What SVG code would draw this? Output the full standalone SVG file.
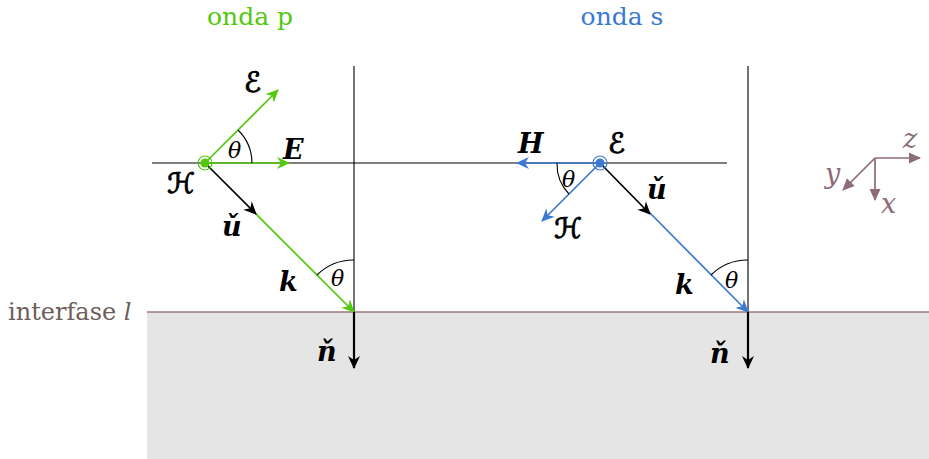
<svg xmlns="http://www.w3.org/2000/svg" width="929" height="459" viewBox="0 0 929 459">
<style>
.thin{stroke:#000;stroke-width:1.1;fill:none}
.g{stroke:#52c90f;stroke-width:1.7;fill:none}
.b{stroke:#3b79d3;stroke-width:1.7;fill:none}
.k{stroke:#000;stroke-width:1.7;fill:none}
.ax{stroke:#8c6b7b;stroke-width:1.7;fill:none}
.m{font-family:"DejaVu Serif","Liberation Serif",serif;font-style:italic;font-weight:bold;font-size:27px;fill:#000}
.sc{font-family:"DejaVu Sans","DejaVu Serif",serif;font-style:italic;font-size:28px;fill:#000;stroke:#000;stroke-width:1}
.th{font-family:"DejaVu Serif","Liberation Serif",serif;font-style:italic;font-size:22px;fill:#000}
.title{font-family:"DejaVu Serif","Liberation Serif",serif;font-size:25px}
.axl{font-family:"DejaVu Serif",serif;font-style:italic;font-size:27px;fill:#8c6b7b}
</style>
<defs>
<marker id="ag" markerUnits="userSpaceOnUse" markerWidth="16" markerHeight="14" refX="0" refY="0" viewBox="-13 -7 16 14" orient="auto"><path d="M1,0 L-12,-6 L-8,0 L-12,6 Z" fill="#52c90f"/></marker>
<marker id="ab" markerUnits="userSpaceOnUse" markerWidth="16" markerHeight="14" refX="0" refY="0" viewBox="-13 -7 16 14" orient="auto"><path d="M1,0 L-12,-6 L-8,0 L-12,6 Z" fill="#3b79d3"/></marker>
<marker id="ak" markerUnits="userSpaceOnUse" markerWidth="16" markerHeight="14" refX="0" refY="0" viewBox="-13 -7 16 14" orient="auto"><path d="M1,0 L-12,-6 L-8,0 L-12,6 Z" fill="#000"/></marker>
<marker id="aa" markerUnits="userSpaceOnUse" markerWidth="16" markerHeight="14" refX="0" refY="0" viewBox="-13 -7 16 14" orient="auto"><path d="M1,0 L-11,-5.5 L-11,5.5 Z" fill="#8c6b7b"/></marker>
</defs>

<g id="ground">
<rect x="147" y="312" width="782" height="147" fill="#e5e5e5"/>
<line x1="147" y1="312" x2="929" y2="312" stroke="#9b7a78" stroke-width="1.5"/>
<text x="8" y="320" font-family="DejaVu Serif,Liberation Serif,serif" font-size="24" fill="#6e5e58">interfase <tspan font-style="italic">l</tspan></text>
</g>

<g id="titles">
<text class="title" x="250" y="25" text-anchor="middle" fill="#52c90f">onda p</text>
<text class="title" x="622" y="25" text-anchor="middle" fill="#3b79d3">onda s</text>
</g>

<g id="connectors">
<line class="thin" x1="152" y1="163" x2="727" y2="163"/>
<line class="thin" x1="354" y1="66" x2="354" y2="312"/>
<line class="thin" x1="748" y1="66" x2="748" y2="312"/>
</g>

<g id="onda-p">
<line class="g" x1="205" y1="163" x2="278" y2="90" marker-end="url(#ag)"/>
<line class="g" x1="205" y1="163" x2="289" y2="163" marker-end="url(#ag)"/>
<line class="g" x1="253" y1="211" x2="354" y2="312" marker-end="url(#ag)"/>
<line class="k" x1="205" y1="163" x2="256" y2="214" marker-end="url(#ak)"/>
<circle cx="205" cy="163" r="7" fill="none" stroke="#52c90f" stroke-width="1.2"/>
<circle cx="205" cy="163" r="4.5" fill="#52c90f"/>
<path class="thin" d="M238,130 A47,47 0 0 1 252,163"/>
<path class="thin" d="M317,275 A52,52 0 0 1 354,260"/>
<line x1="354" y1="312" x2="354" y2="368" stroke="#000" stroke-width="2.2" marker-end="url(#ak)"/>
<text class="th" x="228" y="158">θ</text>
<text class="th" x="331" y="286">θ</text>
<text class="sc" x="244" y="92">ℰ</text>
<text class="m" x="283" y="159">E</text>
<text class="sc" x="167" y="193">ℋ</text>
<text class="m" x="222" y="236">ǔ</text>
<text class="m" x="279" y="291">k</text>
<text class="m" x="317" y="361">ň</text>
</g>

<g id="onda-s">
<line class="b" x1="600" y1="163" x2="517" y2="163" marker-end="url(#ab)"/>
<line class="b" x1="600" y1="163" x2="542" y2="221" marker-end="url(#ab)"/>
<line class="b" x1="648" y1="211" x2="748" y2="312" marker-end="url(#ab)"/>
<line class="k" x1="600" y1="163" x2="650" y2="214" marker-end="url(#ak)"/>
<circle cx="600" cy="163" r="7" fill="none" stroke="#3b79d3" stroke-width="1.2"/>
<circle cx="600" cy="163" r="4.5" fill="#3b79d3"/>
<path class="thin" d="M557,163 A43,43 0 0 0 569,194"/>
<path class="thin" d="M711,275 A52,52 0 0 1 748,260"/>
<line x1="748" y1="312" x2="748" y2="368" stroke="#000" stroke-width="2.2" marker-end="url(#ak)"/>
<text class="th" x="562" y="187">θ</text>
<text class="th" x="725" y="288">θ</text>
<text class="m" x="518" y="153">H</text>
<text class="sc" x="608" y="153">ℰ</text>
<text class="sc" x="554" y="238">ℋ</text>
<text class="m" x="647" y="199">ǔ</text>
<text class="m" x="675" y="294">k</text>
<text class="m" x="710" y="363">ň</text>
</g>

<g id="axes">
<line class="ax" x1="875" y1="158" x2="920" y2="158" marker-end="url(#aa)"/>
<line class="ax" x1="875" y1="158" x2="875" y2="200" marker-end="url(#aa)"/>
<line class="ax" x1="875" y1="158" x2="843" y2="190" marker-end="url(#aa)"/>
<text class="axl" x="903" y="148">z</text>
<text class="axl" x="881" y="213">x</text>
<text class="axl" x="825" y="183">y</text>
</g>
</svg>
